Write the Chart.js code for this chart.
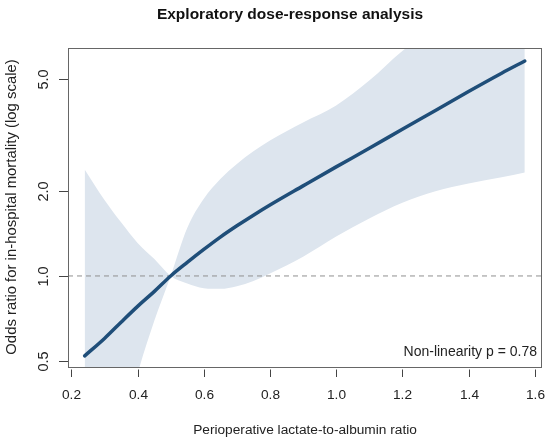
<!DOCTYPE html>
<html>
<head>
<meta charset="utf-8">
<script src="https://cdn.jsdelivr.net/npm/chart.js@4.4.1/dist/chart.umd.min.js"></script>
<style>
  html, body { margin: 0; padding: 0; background: #fff; }
  #wrap { width: 550px; height: 443px; }
</style>
</head>
<body>
<div id="wrap"><canvas id="chart" width="550" height="443"></canvas></div>
<script>
// lactate-to-albumin ratio grid
var ratio = [0.24, 0.3, 0.35, 0.4, 0.45, 0.5, 0.55, 0.6, 0.65, 0.7, 0.75, 0.8, 0.9, 1.0, 1.1, 1.2, 1.3, 1.4, 1.5, 1.57];
// fitted odds ratio (ref = 0.5)
var oddsRatio = [0.52, 0.60, 0.685, 0.78, 0.88, 1.0, 1.117, 1.242, 1.374, 1.507, 1.644, 1.786, 2.089, 2.44, 2.84, 3.32, 3.87, 4.52, 5.25, 5.8];
// the two CI edges cross at the reference point
var ciEdgeA = [2.39, 1.86, 1.55, 1.31, 1.15, 1.0, 0.94, 0.905, 0.9, 0.92, 0.96, 1.02, 1.17, 1.38, 1.6, 1.82, 2.0, 2.13, 2.24, 2.33];
var ciEdgeB = [0.12, 0.19, 0.27, 0.45, 0.69, 1.0, 1.48, 1.88, 2.21, 2.5, 2.77, 3.03, 3.51, 4.03, 4.94, 6.3, 7.6, 9.2, 11, 12.5];

var xTicks = [0.2, 0.4, 0.6, 0.8, 1.0, 1.2, 1.4, 1.6];
var xTickLabels = ['0.2', '0.4', '0.6', '0.8', '1.0', '1.2', '1.4', '1.6'];
var yTicks = [0.5, 1.0, 2.0, 5.0];
var yTickLabels = ['0.5', '1.0', '2.0', '5.0'];
var xRange = [0.1897, 1.622];
var yRange = [0.475, 6.45];
var refOR = 1.0;

var titleText = 'Exploratory dose-response analysis';
var xTitle = 'Perioperative lactate-to-albumin ratio';
var yTitle = 'Odds ratio for in-hospital mortality (log scale)';
var noteText = 'Non-linearity p = 0.78';

function pts(ys) {
    return ratio.map(function (x, i) { return {x: x, y: ys[i]}; });
}

var FONT = '"Liberation Sans", Arial, sans-serif';
var band = '#dde5ee';

// box, R style ticks and all text
var frame = {
    id: 'frame',
    afterDatasetsDraw: function (chart) {
        var ctx = chart.ctx, a = chart.chartArea;
        var xs = chart.scales.x, ys = chart.scales.y;
        ctx.save();
        ctx.strokeStyle = '#666';
        ctx.lineWidth = 1;
        ctx.strokeRect(Math.round(a.left) + 0.5, Math.round(a.top) + 0.5,
            Math.round(a.right - a.left) - 1, Math.round(a.bottom - a.top));

        ctx.strokeStyle = '#444';
        ctx.fillStyle = '#222';
        ctx.font = '13.7px ' + FONT;
        ctx.textAlign = 'center';
        ctx.textBaseline = 'middle';
        xTicks.forEach(function (v, i) {
            var px = Math.round(xs.getPixelForValue(v)) + 0.5;
            ctx.beginPath();
            ctx.moveTo(px, a.bottom + 2.5);
            ctx.lineTo(px, a.bottom + 10);
            ctx.stroke();
            ctx.fillText(xTickLabels[i], px, a.bottom + 28.5);
        });
        ctx.font = '14.5px ' + FONT;
        yTicks.forEach(function (v, i) {
            var py = Math.round(ys.getPixelForValue(v)) + 0.5;
            ctx.beginPath();
            ctx.moveTo(a.left - 9, py);
            ctx.lineTo(a.left, py);
            ctx.stroke();
            ctx.save();
            ctx.translate(a.left - 24, py);
            ctx.rotate(-Math.PI / 2);
            ctx.fillText(yTickLabels[i], 0, 0);
            ctx.restore();
        });

        ctx.font = '13.7px ' + FONT;
        ctx.fillText(xTitle, 305, 430);
        ctx.font = '14.9px ' + FONT;
        ctx.save();
        ctx.translate(12, 207);
        ctx.rotate(-Math.PI / 2);
        ctx.fillText(yTitle, 0, 0);
        ctx.restore();

        ctx.font = '14px ' + FONT;
        ctx.textAlign = 'right';
        ctx.fillText(noteText, a.right - 5, 352);

        ctx.textAlign = 'center';
        ctx.fillStyle = '#111';
        ctx.font = 'bold 15.5px ' + FONT;
        ctx.fillText(titleText, 290, 15);
        ctx.restore();
    }
};

new Chart(document.getElementById('chart'), {
    type: 'line',
    data: {
        datasets: [
            {
                data: pts(oddsRatio),
                borderColor: '#1f4e79',
                borderWidth: 3.5,
                borderCapStyle: 'round',
                cubicInterpolationMode: 'monotone',
                pointRadius: 0,
                fill: false
            },
            {
                data: [{x: xRange[0], y: refOR}, {x: xRange[1], y: refOR}],
                borderColor: '#8f8f8f',
                borderWidth: 1,
                borderDash: [5, 4],
                pointRadius: 0,
                fill: false
            },
            {
                data: pts(ciEdgeA),
                borderWidth: 0,
                cubicInterpolationMode: 'monotone',
                pointRadius: 0,
                fill: false
            },
            {
                data: pts(ciEdgeB),
                borderWidth: 0,
                borderColor: 'rgba(0,0,0,0)',
                backgroundColor: band,
                cubicInterpolationMode: 'monotone',
                pointRadius: 0,
                fill: 2
            }
        ]
    },
    options: {
        responsive: false,
        animation: false,
        layout: { padding: { left: 68, right: 8, top: 48, bottom: 76 } },
        plugins: { legend: { display: false }, tooltip: { enabled: false } },
        scales: {
            x: { type: 'linear', min: xRange[0], max: xRange[1], display: false },
            y: { type: 'logarithmic', min: yRange[0], max: yRange[1], display: false }
        }
    },
    plugins: [frame]
});
</script>
</body>
</html>
